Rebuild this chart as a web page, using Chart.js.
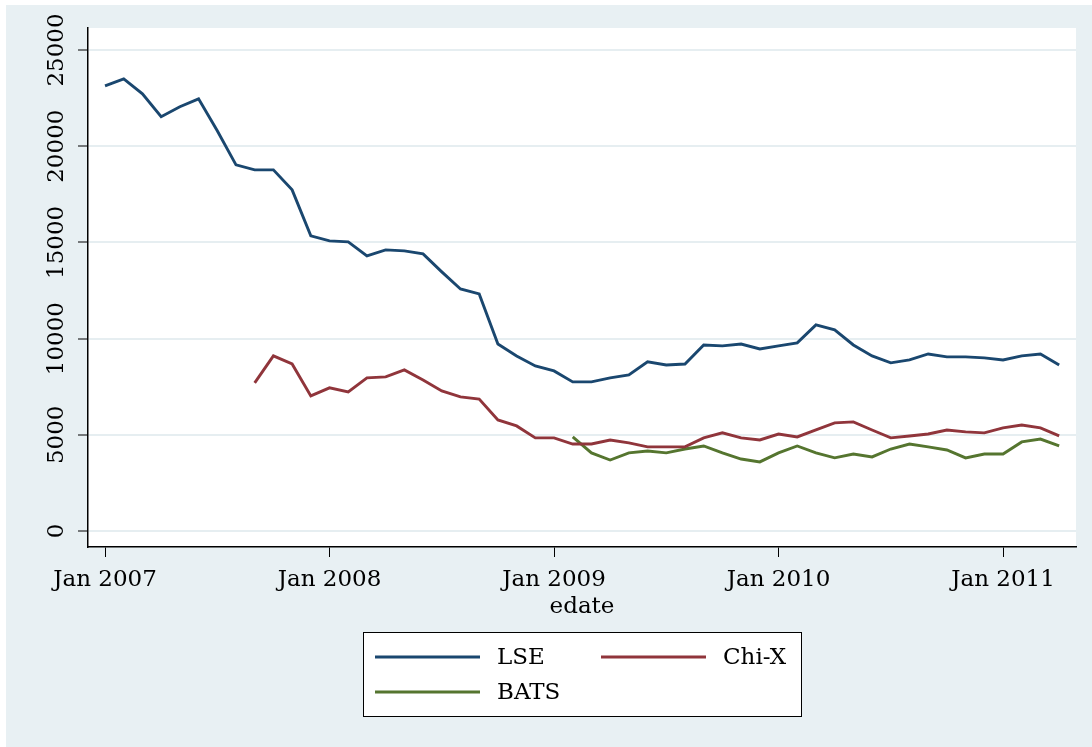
<!DOCTYPE html>
<html>
<head>
<meta charset="utf-8">
<script src="https://cdn.jsdelivr.net/npm/chart.js@4"></script>
<style>
  html, body { margin: 0; padding: 0; background: #fff; }
</style>
</head>
<body>
<canvas id="chart" width="1092" height="747"></canvas>
<script>
// 🔹 DATA (monthly, Jan 2007 .. Apr 2011)
const lse = [23140, 23500, 22720, 21530, 22050, 22460, 20800, 19030, 18770, 18770, 17730, 15340,
  15080, 15030, 14300, 14610, 14560, 14400, 13470, 12580, 12320, 9720, 9100, 8580,
  8320, 7750, 7750, 7960, 8110, 8790, 8630, 8680, 9670, 9620, 9720, 9460,
  9620, 9780, 10710, 10450, 9670, 9100, 8740, 8890, 9200, 9050, 9050, 9000,
  8890, 9100, 9200, 8630];
const chix = [null, null, null, null, null, null, null, null, 7700, 9100, 8680, 7020,
  7440, 7230, 7960, 8010, 8370, 7850, 7280, 6970, 6860, 5770, 5460, 4840,
  4840, 4520, 4520, 4730, 4580, 4370, 4370, 4370, 4840, 5100, 4840, 4730,
  5040, 4890, 5250, 5620, 5670, 5250, 4840, 4940, 5040, 5250, 5150, 5100,
  5360, 5510, 5360, 4940];
const bats = [null, null, null, null, null, null, null, null, null, null, null, null,
  null, null, null, null, null, null, null, null, null, null, null, null,
  null, 4890, 4060, 3690, 4060, 4160, 4060, 4260, 4420, 4060, 3740, 3590,
  4060, 4420, 4060, 3800, 4000, 3850, 4260, 4520, 4370, 4210, 3800, 4000,
  4000, 4630, 4780, 4420];

// months since Jan 2007
const months = lse.map((_, i) => i);
const tickMonths = [0, 12, 24, 36, 48];
const tickLabels = ['Jan 2007', 'Jan 2008', 'Jan 2009', 'Jan 2010', 'Jan 2011'];
const yTicks = [0, 5000, 10000, 15000, 20000, 25000];

const FONT = "'DejaVu Serif', serif";
const toPoints = arr => arr.map((v, i) => ({ x: months[i], y: v }));

// 🔹 BACKGROUND
const bgPlugin = {
  id: 'bg',
  beforeDraw(chart) {
    const { ctx, chartArea: a } = chart;
    ctx.save();
    ctx.fillStyle = '#ffffff';
    ctx.fillRect(0, 0, chart.width, chart.height);
    ctx.fillStyle = '#e8f0f3';
    ctx.fillRect(6, 5, chart.width - 6, chart.height - 5);
    ctx.fillStyle = '#ffffff';
    ctx.fillRect(a.left, a.top, a.right - a.left, a.bottom - a.top);
    ctx.restore();
  }
};

// 🔹 VERTICAL Y LABELS
const yLabelPlugin = {
  id: 'ylabels',
  afterDraw(chart) {
    const { ctx } = chart;
    const y = chart.scales.y;
    ctx.save();
    ctx.fillStyle = '#000';
    ctx.font = '23px ' + FONT;
    ctx.textAlign = 'center';
    ctx.textBaseline = 'middle';
    yTicks.forEach(v => {
      ctx.save();
      ctx.translate(57, y.getPixelForValue(v));
      ctx.rotate(-Math.PI / 2);
      ctx.fillText(String(v), 0, 0);
      ctx.restore();
    });
    ctx.restore();
  }
};

// 🔹 LEGEND BOX (two columns)
const legendPlugin = {
  id: 'boxlegend',
  afterDraw(chart) {
    const { ctx } = chart;
    ctx.save();
    ctx.fillStyle = '#fff';
    ctx.fillRect(363, 632, 438, 84);
    ctx.strokeStyle = '#000';
    ctx.lineWidth = 1;
    ctx.strokeRect(363.5, 632.5, 438, 84);
    const cols = [375, 601];
    const rows = [657, 692];
    ctx.font = '23px ' + FONT;
    ctx.textBaseline = 'middle';
    ctx.textAlign = 'left';
    chart.data.datasets.forEach((ds, i) => {
      const x = cols[i % 2];
      const y = rows[Math.floor(i / 2)];
      ctx.strokeStyle = ds.borderColor;
      ctx.lineWidth = 2.8;
      ctx.beginPath();
      ctx.moveTo(x, y);
      ctx.lineTo(x + 105, y);
      ctx.stroke();
      ctx.fillStyle = '#000';
      ctx.fillText(ds.label, x + 122, y + 1);
    });
    ctx.restore();
  }
};

new Chart(document.getElementById('chart'), {
  type: 'line',
  data: {
    datasets: [
      { label: 'LSE', data: toPoints(lse), borderColor: '#1a476f' },
      { label: 'Chi-X', data: toPoints(chix), borderColor: '#90353b' },
      { label: 'BATS', data: toPoints(bats), borderColor: '#55752f' }
    ]
  },
  options: {
    responsive: false,
    animation: false,
    devicePixelRatio: 1,
    layout: { padding: { top: 28, right: 16, bottom: 120, left: 0 } },
    plugins: { legend: { display: false }, tooltip: { enabled: false } },
    elements: {
      point: { radius: 0 },
      line: { borderWidth: 2.9, tension: 0, fill: false }
    },
    scales: {
      x: {
        type: 'linear',
        min: -0.91,
        max: 51.9,
        afterBuildTicks: s => { s.ticks = tickMonths.map(v => ({ value: v })); },
        afterFit: s => { s.height = 80; },
        grid: { drawOnChartArea: false, drawTicks: true, tickLength: 10, tickColor: '#000', tickWidth: 1 },
        border: { color: '#000', width: 1.5 },
        ticks: {
          callback: (v, i) => tickLabels[i],
          autoSkip: false, maxRotation: 0,
          color: '#000', padding: 9,
          font: { family: FONT, size: 23 }
        },
        title: {
          display: true, text: 'edate', color: '#000',
          font: { family: FONT, size: 23 },
          padding: { top: 0, bottom: 6 }
        }
      },
      y: {
        min: -832,
        max: 26143,
        afterBuildTicks: s => { s.ticks = yTicks.map(v => ({ value: v })); },
        afterFit: s => { s.width = 88; },
        grid: { color: '#e6eef1', lineWidth: 2, tickLength: 10, tickColor: '#000', tickWidth: 1 },
        border: { color: '#000', width: 1.5 },
        ticks: { display: false }
      }
    }
  },
  plugins: [bgPlugin, yLabelPlugin, legendPlugin]
});
</script>
</body>
</html>
